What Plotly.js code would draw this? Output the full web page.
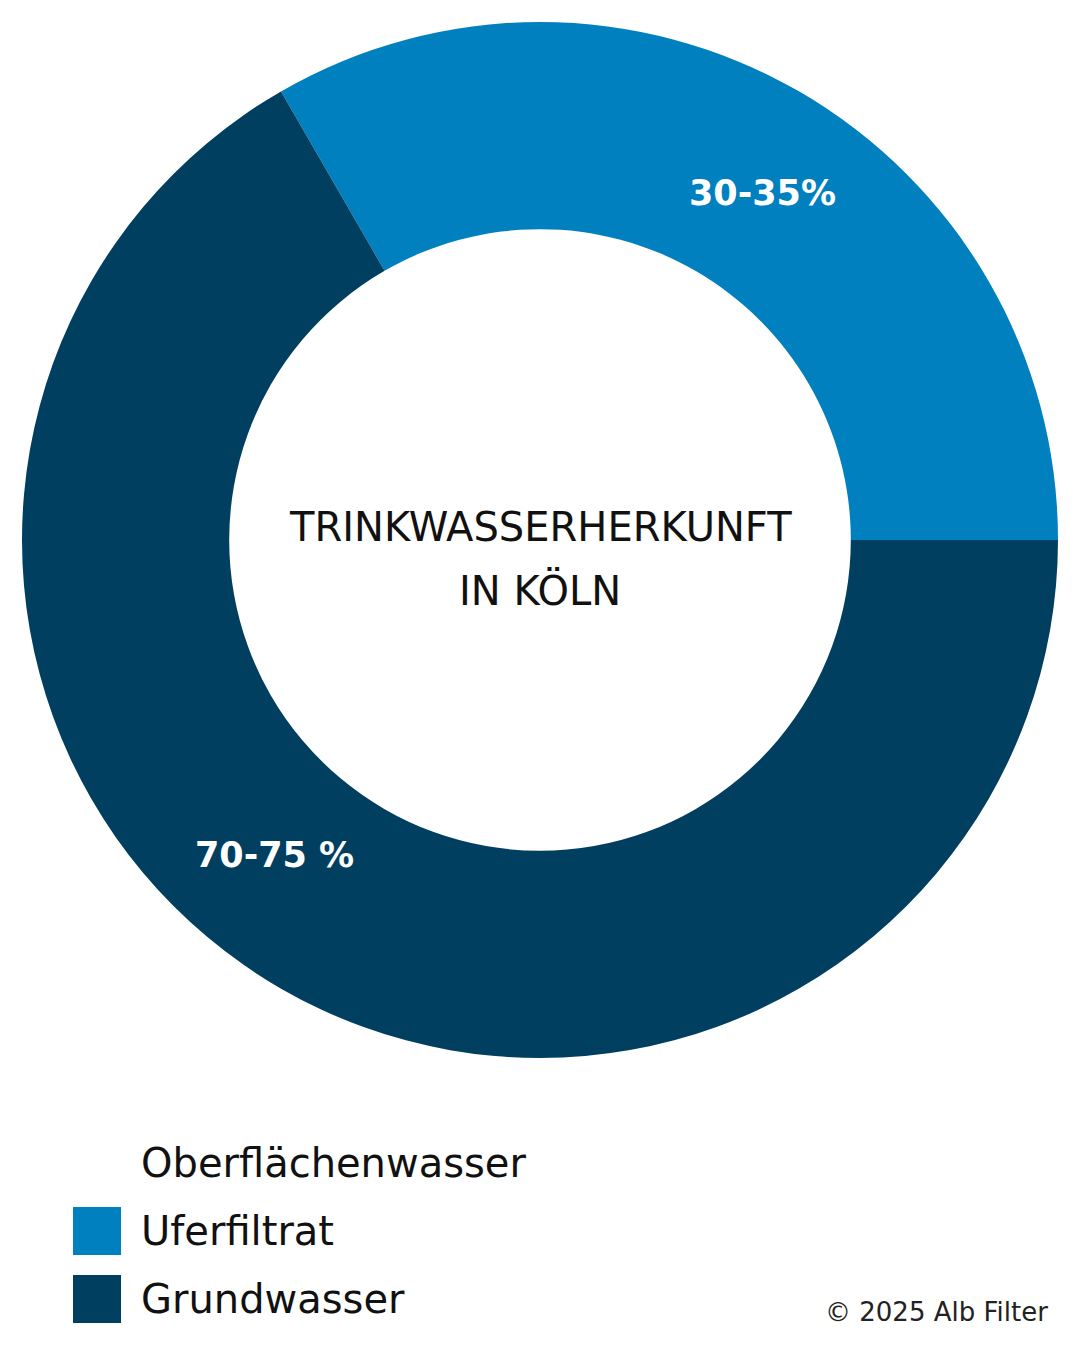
<!DOCTYPE html>
<html>
<head>
<meta charset="utf-8">
<script src="https://cdn.plot.ly/plotly-3.0.1.min.js"></script>
<style>html,body{margin:0;padding:0;background:#fff;}#chart{width:1080px;height:1350px;}</style>
</head>
<body>
<div id="chart"></div>
<script>
// Data
const sliceLabels = ["Uferfiltrat", "Grundwasser"];
const sliceValues = [33.33, 66.67];
const sliceColors = ["#0080BF", "#003F60"];
const sliceTexts = ["30-35%", "70-75 %"];

const legendLabels = ["Oberflächenwasser", "Uferfiltrat", "Grundwasser"];
const legendColors = ["#FFFFFF", "#0080BF", "#003F60"];

const centerLines = ["TRINKWASSERHERKUNFT", "IN KÖLN"];
const copyright = "© 2025 Alb Filter";

const FONT = "DejaVu Sans, sans-serif";
const W = 1080, H = 1350;
const px = x => x / W;
const py = y => 1 - y / H;

const trace = {
  type: "pie",
  labels: sliceLabels,
  values: sliceValues,
  marker: {colors: sliceColors, line: {width: 0}},
  hole: 0.6,
  sort: false,
  direction: "clockwise",
  rotation: -30,
  textinfo: "none",
  hoverinfo: "label+percent",
  showlegend: false,
  domain: {x: [px(22), px(1058)], y: [py(1058), py(22)]}
};

const annotations = [];
// slice labels
const labelPos = [[762, 193], [274, 855]];
sliceTexts.forEach((t, i) => {
  annotations.push({
    xref: "paper", yref: "paper", x: px(labelPos[i][0]), y: py(labelPos[i][1]),
    text: "<b>" + t + "</b>", showarrow: false, xanchor: "center", yanchor: "middle",
    font: {family: FONT, size: 35, color: "#FFFFFF"}
  });
});
// center text
const centerY = [527, 590];
centerLines.forEach((t, i) => {
  annotations.push({
    xref: "paper", yref: "paper", x: 0.5, y: py(centerY[i]),
    text: t, showarrow: false, xanchor: "center", yanchor: "middle",
    font: {family: FONT, size: 40, color: "#111111"}
  });
});
// legend
const shapes = [];
legendLabels.forEach((t, i) => {
  const cy = 1163 + i * 68;
  shapes.push({
    type: "rect", xref: "paper", yref: "paper",
    x0: px(73), x1: px(121), y0: py(cy - 24), y1: py(cy + 24),
    fillcolor: legendColors[i], line: {width: 0}
  });
  annotations.push({
    xref: "paper", yref: "paper", x: px(139), y: py(cy),
    text: t, showarrow: false, xanchor: "left", yanchor: "middle",
    font: {family: FONT, size: 40, color: "#111111"}
  });
});
// copyright
annotations.push({
  xref: "paper", yref: "paper", x: px(1050), y: py(1312),
  text: copyright, showarrow: false, xanchor: "right", yanchor: "middle",
  font: {family: FONT, size: 26, color: "#222222"}
});

const layout = {
  width: W, height: H,
  margin: {l: 0, r: 0, t: 0, b: 0},
  paper_bgcolor: "#FFFFFF",
  plot_bgcolor: "#FFFFFF",
  showlegend: false,
  annotations: annotations,
  shapes: shapes
};

Plotly.newPlot("chart", [trace], layout, {displayModeBar: false, staticPlot: true});
</script>
</body>
</html>
